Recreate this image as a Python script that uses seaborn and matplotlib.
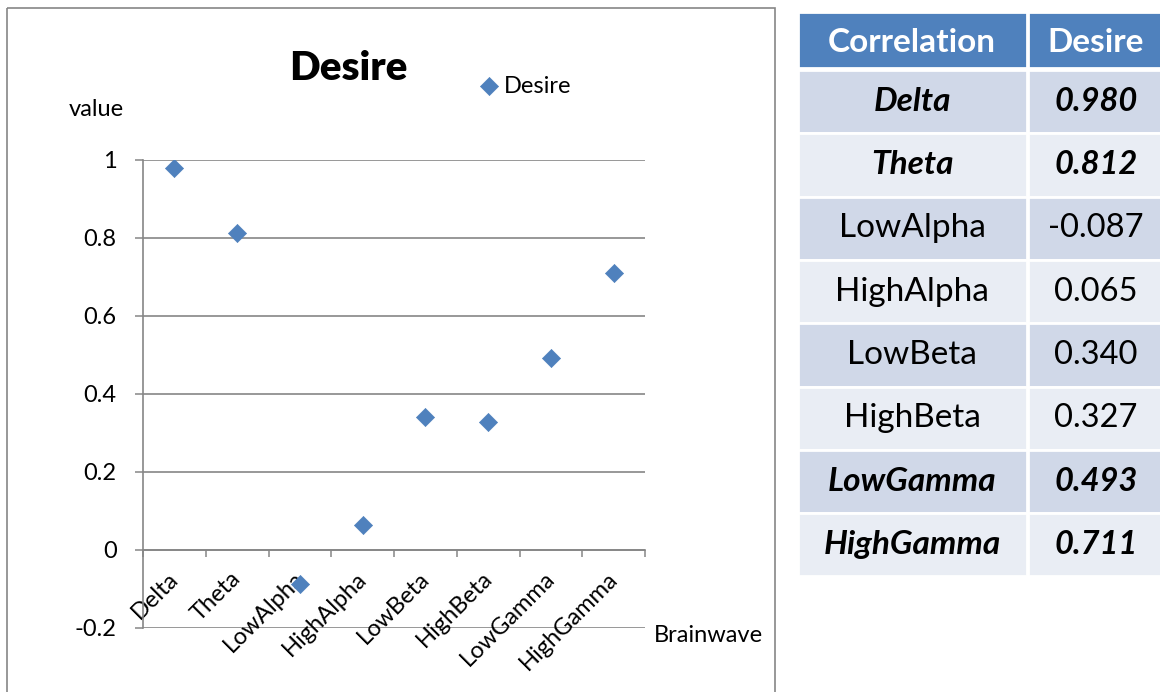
# Desire vs brainwave correlation: scatter + table

import numpy as np
import matplotlib.pyplot as plt
import seaborn as sns
from matplotlib.patches import Rectangle
from matplotlib.transforms import ScaledTranslation

# data
brainwaves = ['Delta', 'Theta', 'LowAlpha', 'HighAlpha', 'LowBeta', 'HighBeta', 'LowGamma', 'HighGamma']
desire = [0.980, 0.812, -0.087, 0.065, 0.340, 0.327, 0.493, 0.711]
value_labels = ['0.980', '0.812', '-0.087', '0.065', '0.340', '0.327', '0.493', '0.711']
highlight = [True, True, False, False, False, False, True, True]
yticks = [-0.2, 0, 0.2, 0.4, 0.6, 0.8, 1]
ytick_labels = ['-0.2', '0', '0.2', '0.4', '0.6', '0.8', '1']

blue = '#4F81BD'
grid_grey = '#868686'

sns.set_style('white')
plt.rcParams['font.family'] = ['Lato', 'DejaVu Sans']
plt.rcParams['text.color'] = 'black'
plt.rcParams['xtick.labelcolor'] = 'black'
plt.rcParams['ytick.labelcolor'] = 'black'
plt.rcParams['axes.labelcolor'] = 'black'

fig = plt.figure(figsize=(11.6, 6.92), dpi=100)
W, H = 1160, 692

# overlay for the chart frame and the table
bg = fig.add_axes([0, 0, 1, 1], zorder=-1)
bg.set_xlim(0, W)
bg.set_ylim(H, 0)
bg.axis('off')
bg.add_patch(Rectangle((7, 8), 768, 720, fill=False, edgecolor=grid_grey, lw=1.2))

# chart
ax = fig.add_axes([143 / W, (H - 628) / H, (645 - 143) / W, (628 - 160) / H])
for yv in yticks:
    ax.axhline(yv, color=grid_grey, lw=1.2, zorder=0.5)
sns.scatterplot(x=brainwaves, y=desire, marker='D', s=85, color=blue,
                edgecolor=blue, linewidth=0.5, label='Desire', ax=ax, zorder=1)

for s in ['top', 'right']:
    ax.spines[s].set_visible(False)
ax.spines['bottom'].set_position(('data', 0))
for s in ['left', 'bottom']:
    ax.spines[s].set_color(grid_grey)
    ax.spines[s].set_linewidth(1.2)

ax.set_xlim(-0.5, len(brainwaves) - 0.5)
ax.set_ylim(-0.2, 1)
ax.set_yticks(yticks)
ax.set_yticklabels(ytick_labels, fontsize=17)
ax.set_xticks(range(len(brainwaves)))
ax.set_xticklabels(brainwaves, fontsize=17, rotation=45, ha='right', va='top')
ax.set_xticks(np.arange(-0.5, len(brainwaves)), minor=True)
ax.tick_params(axis='y', length=6, width=1.1, color=grid_grey, direction='out', pad=13, left=True)
ax.tick_params(axis='x', which='major', length=0, pad=13)
ax.tick_params(axis='x', which='minor', length=5, width=1.1, color=grid_grey, direction='out', bottom=True)
offset = ScaledTranslation(8 / 100, 0, fig.dpi_scale_trans)
for lbl in ax.get_xticklabels():
    lbl.set_transform(lbl.get_transform() + offset)
ax.set_facecolor('none')

ax.set_ylabel('value', rotation=0, fontsize=17, ha='center', va='center')
ax.yaxis.set_label_coords(-0.094, 1.107)
ax.set_xlabel('Brainwave', fontsize=17, ha='left', va='center')
ax.xaxis.set_label_coords(1.018, -0.017)
ax.set_title('Desire', x=0.408, y=1.17, pad=0, fontsize=29, fontweight='heavy')
ax.legend(loc='center left', bbox_to_anchor=(0.672, 1.158), frameon=False,
          fontsize=17, handlelength=0.7, handletextpad=0.3, borderpad=0, borderaxespad=0)

# table
col_x = [798, 1028]
col_w = [229, 140]
col_c = [912, 1096]
bg.add_patch(Rectangle((col_x[0], 12), col_w[0], 56, facecolor=blue, edgecolor='white', lw=2))
bg.add_patch(Rectangle((col_x[1], 12), col_w[1], 56, facecolor=blue, edgecolor='white', lw=2))
bg.text(col_c[0], 42, 'Correlation', color='white', fontsize=24, fontweight='bold', ha='center', va='center')
bg.text(col_c[1], 42, 'Desire', color='white', fontsize=24, fontweight='bold', ha='center', va='center')
row_h = 63.3
for i, (name, val, hl) in enumerate(zip(brainwaves, value_labels, highlight)):
    top = 70 + i * row_h
    fill = '#D0D8E8' if i % 2 == 0 else '#E9EDF4'
    for cx, cw in zip(col_x, col_w):
        bg.add_patch(Rectangle((cx, top), cw, row_h, facecolor=fill, edgecolor='white', lw=2))
    style = dict(fontweight='bold', fontstyle='italic') if hl else {}
    bg.text(col_c[0], top + row_h / 2, name, fontsize=24, ha='center', va='center', **style)
    bg.text(col_c[1], top + row_h / 2, val, fontsize=23.5, ha='center', va='center', **style)

plt.savefig('out.png', dpi=100)
